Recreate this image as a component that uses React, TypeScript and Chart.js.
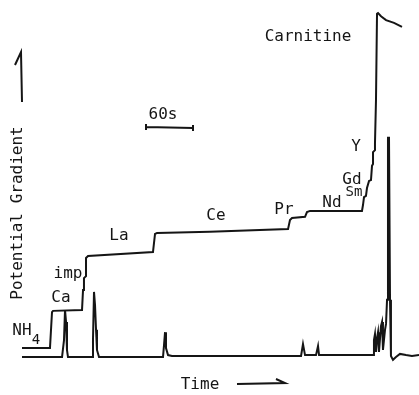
import React, { useEffect, useRef } from "react";
import { Chart, registerables } from "chart.js";

Chart.register(...registerables);

// Time in seconds, potential gradient in arbitrary units (0-100)
const gradientTime = [0, 35.7, 38.3, 39.6, 76.6, 77.9, 79.1, 81.7, 81.7, 84.3, 167.2, 169.8, 172.3, 239.9, 339.6, 342.1, 344.7, 361.3, 363.8, 367.7, 434.0, 435.3, 436.6, 439.1, 440.4, 443.0, 445.5, 446.8, 448.1, 448.1, 450.6, 450.6, 451.9, 453.2, 454.5, 458.3, 464.7, 474.9, 485.1];
const gradientValue = [11.9, 11.9, 21.0, 21.3, 21.5, 26.6, 29.6, 30.1, 34.7, 35.2, 36.2, 40.8, 41.0, 41.3, 42.0, 44.3, 44.8, 45.1, 46.3, 46.6, 46.6, 48.1, 50.1, 50.4, 52.4, 54.2, 54.4, 58.0, 58.5, 61.5, 62.0, 63.8, 74.7, 96.5, 96.7, 95.9, 94.9, 94.2, 93.2];

// Differential (UV / derivative) trace
const diffTime = [0, 51.1, 53.6, 54.9, 56.2, 57.4, 58.7, 89.4, 90.6, 91.9, 93.2, 94.5, 95.7, 98.3, 180.0, 181.3, 182.6, 183.8, 186.4, 191.5, 356.2, 358.7, 361.3, 375.3, 377.9, 379.2, 448.1, 449.3, 450.6, 451.9, 453.2, 454.5, 455.7, 458.3, 459.6, 460.8, 463.4, 464.7, 466.0, 467.2, 468.5, 469.8, 471.0, 473.6, 477.4, 482.5, 490.2, 497.8, 506.8];
const diffValue = [9.6, 9.6, 13.9, 21.5, 18.5, 11.4, 9.6, 9.6, 13.9, 26.1, 22.8, 16.5, 11.4, 9.6, 9.6, 12.7, 15.9, 11.9, 10.1, 9.9, 9.9, 12.9, 10.1, 10.1, 12.4, 10.1, 10.1, 13.9, 15.4, 10.9, 14.4, 15.9, 10.9, 17.5, 18.5, 11.4, 16.5, 18.0, 24.1, 65.1, 65.1, 24.1, 9.9, 8.9, 9.6, 10.4, 10.1, 9.9, 10.1];

const zoneLabels = ["NH", "Ca", "imp", "La", "Ce", "Pr", "Nd", "Sm", "Gd", "Y", "Carnitine"];
const scaleBarSeconds = 60;
const scaleBarStart = 158.3;
const axisTitle = "Potential Gradient";
const timeTitle = "Time";
const scaleBarLabel = "60s";

const INK = "#151515";
const FONT = "'DejaVu Sans Mono', monospace";

// pixel positions of labels (layout only)
const labelPos: Record<string, [number, number, number]> = {
  NH: [22, 331, 16],
  Ca: [61, 298, 16],
  imp: [68, 274, 16],
  La: [119, 236, 16],
  Ce: [216, 216, 16],
  Pr: [284, 210, 16],
  Nd: [332, 203, 16],
  Sm: [354, 192, 14],
  Gd: [352, 180, 16],
  Y: [356, 147, 16],
  Carnitine: [308, 37, 16],
};

const annotations = {
  id: "annotations",
  afterDatasetsDraw(chart: any) {
    const ctx = chart.ctx;
    const xs = chart.scales.x;
    ctx.save();
    ctx.fillStyle = INK;
    ctx.strokeStyle = INK;
    ctx.textAlign = "center";
    ctx.textBaseline = "middle";
    zoneLabels.forEach((l) => {
      const [x, y, s] = labelPos[l];
      ctx.font = `${s}px ${FONT}`;
      ctx.fillText(l, x, y);
    });
    // NH4 subscript
    ctx.font = `14px ${FONT}`;
    ctx.fillText("4", 36, 340);

    // scale bar
    ctx.font = `16px ${FONT}`;
    ctx.fillText(scaleBarLabel, 163, 115);
    const x0 = xs.getPixelForValue(scaleBarStart);
    const x1 = xs.getPixelForValue(scaleBarStart + scaleBarSeconds);
    ctx.lineWidth = 2;
    ctx.beginPath();
    ctx.moveTo(x0, 127);
    ctx.lineTo(x1, 128);
    ctx.moveTo(x0, 124);
    ctx.lineTo(x0, 130);
    ctx.moveTo(x1, 125);
    ctx.lineTo(x1, 131);
    ctx.stroke();

    // y-axis title
    ctx.save();
    ctx.translate(18, 213);
    ctx.rotate(-Math.PI / 2);
    ctx.font = `16px ${FONT}`;
    ctx.fillText(axisTitle, 0, 0);
    ctx.restore();

    // up arrow
    ctx.lineWidth = 2;
    ctx.beginPath();
    ctx.moveTo(22, 102);
    ctx.lineTo(21, 52);
    ctx.lineTo(15, 65);
    ctx.stroke();

    // time label + arrow
    ctx.font = `16px ${FONT}`;
    ctx.fillText(timeTitle, 200, 385);
    ctx.beginPath();
    ctx.moveTo(237, 384);
    ctx.lineTo(285, 383);
    ctx.lineTo(276, 379);
    ctx.stroke();
    ctx.restore();
  },
};

export default function App() {
  const ref = useRef<HTMLCanvasElement>(null);
  useEffect(() => {
    document.body.style.margin = "0";
    const mk = (t: number[], v: number[]) => t.map((x, i) => ({ x, y: v[i] }));
    const chart = new Chart(ref.current!, {
      type: "line",
      data: {
        datasets: [
          { data: mk(gradientTime, gradientValue), borderColor: INK, borderWidth: 2, pointRadius: 0, tension: 0, fill: false },
          { data: mk(diffTime, diffValue), borderColor: INK, borderWidth: 2, pointRadius: 0, tension: 0, fill: false },
        ],
      },
      options: {
        responsive: false,
        animation: false,
        layout: { padding: 0 },
        scales: {
          x: { type: "linear", min: -28.1, max: 506.8, display: false },
          y: { type: "linear", min: 0, max: 100, display: false },
        },
        plugins: { legend: { display: false }, tooltip: { enabled: false } },
      },
      plugins: [annotations],
    });
    return () => chart.destroy();
  }, []);
  return <canvas ref={ref} width={419} height={395} style={{ display: "block" }} />;
}
